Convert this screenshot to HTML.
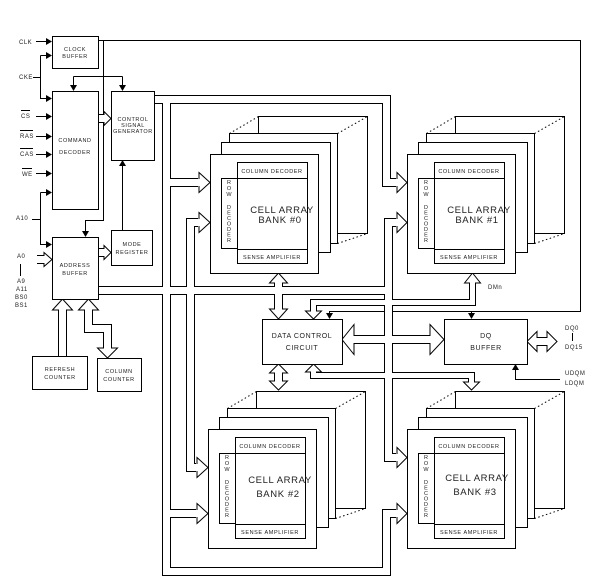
<!DOCTYPE html>
<html><head><meta charset="utf-8"><style>
html,body{margin:0;padding:0;background:#fff;}
svg{display:block;}
text{font-family:"Liberation Sans",sans-serif;fill:#222;}
.s{font-size:5.5px;letter-spacing:0.6px;text-anchor:middle;}
.m{font-size:6px;letter-spacing:0.5px;}
.c{font-size:9.5px;letter-spacing:0.6px;text-anchor:middle;}
.b{fill:none;stroke:#000;stroke-width:9;stroke-linejoin:miter;}
.w{fill:none;stroke:#fff;stroke-width:7;stroke-linejoin:miter;}
.bn{fill:none;stroke:#000;stroke-width:7;stroke-linejoin:miter;}
.wn{fill:none;stroke:#fff;stroke-width:5;stroke-linejoin:miter;}
.h{fill:#fff;stroke:#000;stroke-width:1;}
.r{fill:#fff;stroke:#000;stroke-width:1;}
.l{fill:none;stroke:#000;stroke-width:1;}
.d{fill:none;stroke:#000;stroke-width:1;stroke-dasharray:1.5,2.5;}
</style></head><body>
<svg width="604" height="587" viewBox="0 0 604 587" xmlns="http://www.w3.org/2000/svg">
<defs>
<g id="bank">
<rect class="r" x="258.5" y="116.5" width="109" height="117"/>
<path class="d" d="M229.5,133.5 L258.5,116.5 M337.5,133.5 L367.5,116.5 M337.5,243.5 L367.5,233.5"/>
<rect class="r" x="229.5" y="133.5" width="108" height="110"/>
<rect class="r" x="221.5" y="142.5" width="109" height="110"/>
<rect class="r" x="210.5" y="154.5" width="108" height="119"/>
<rect class="r" x="237.5" y="162.5" width="70" height="101"/>
<path class="l" d="M237.5,178.5 H307.5 M237.5,249.5 H307.5"/>
<rect class="r" x="221.5" y="178.5" width="16" height="70"/>
<text class="s" x="272" y="173">COLUMN DECODER</text>
<text class="s" x="272" y="259">SENSE AMPLIFIER</text>
<g class="s" style="letter-spacing:0">
<text x="229" y="184">R</text><text x="229" y="190">O</text><text x="229" y="196">W</text>
<text x="229" y="209">D</text><text x="229" y="214.5">E</text><text x="229" y="220">C</text><text x="229" y="225.5">O</text><text x="229" y="231">D</text><text x="229" y="236.5">E</text><text x="229" y="242">R</text>
</g>
</g>
</defs>

<path class="l" d="M98,40.5 H580.5 V311.5 H329.5 V314 M471.5,311.5 V314"/>
<polygon points="326,313 333,313 329.5,319"/>
<polygon points="468,313 475,313 471.5,319"/>
<path class="l" d="M103.5,40.5 V220.5 H85.5 V231"/>
<polygon points="82,231 89,231 85.5,237"/>
<path class="l" d="M73.5,76.5 H122.5 M73.5,76.5 V85 M122.5,76.5 V85"/>
<polygon points="70,85 77,85 73.5,91"/><polygon points="119,85 126,85 122.5,91"/>
<path class="l" d="M122.5,230 V166"/><polygon points="119,166 126,166 122.5,160"/>
<path class="l" d="M36,41.5 H46 M33,77.5 H40.5 M40.5,55.5 V98.5 H46 M40.5,55.5 H46 M36,116.5 H46 M36,136.5 H46 M36,154.5 H46 M36,173.5 H46 M32,219.5 H40.5 M40.5,192.5 V244.5 H46 M40.5,192.5 H46"/>
<g>
<polygon points="46,38 52,41.5 46,45"/><polygon points="46,52 52,55.5 46,59"/><polygon points="46,95 52,98.5 46,102"/>
<polygon points="46,113 52,116.5 46,120"/><polygon points="46,133 52,136.5 46,140"/><polygon points="46,151 52,154.5 46,158"/>
<polygon points="46,170 52,173.5 46,177"/><polygon points="46,189 52,192.5 46,196"/><polygon points="46,241 52,244.5 46,248"/>
</g>
<path class="l" d="M560,379.5 H515.5 V370"/><polygon points="512,370 519,370 515.5,364"/>

<g class="b">
<polyline points="154,99.5 386.5,99.5 386.5,182.5 396,182.5"/>
<polyline points="166.5,99.5 166.5,571.5 386.5,571.5 386.5,513.5 396,513.5"/>
<polyline points="166.5,182.5 198,182.5"/>
<polyline points="166.5,513.5 196,513.5"/>
<polyline points="98,290.5 388.5,290.5"/>
<polyline points="198,222.5 190.5,222.5 190.5,467.5 196,467.5"/>
<polyline points="396,222.5 388.5,222.5 388.5,457.5 396,457.5"/>
<polyline points="278.5,282 278.5,310"/>
<polyline points="278.5,373 278.5,381"/>
<polyline points="354,339.5 430,339.5"/>
<polyline points="37,259.5 44,259.5"/>
<polyline points="98,118.5 104,118.5"/>
<polyline points="98,252.5 104,252.5"/>
<polyline points="62.5,356 62.5,310"/>
<polyline points="88.5,310 88.5,328.5 107.5,328.5 107.5,348"/>
<polyline points="537,341.5 547,341.5"/>
</g>
<g class="bn">
<polyline points="472.5,282 472.5,302.5 313.5,302.5 313.5,311"/>
<polyline points="313.5,372 313.5,375.5 471.5,375.5 471.5,382"/>
</g>
<g class="h">
<polygon points="397,172.5 407,182.5 397,192.5"/>
<polygon points="397,503.5 407,513.5 397,523.5"/>
<polygon points="199,172.5 210,182.5 199,192.5"/>
<polygon points="197,503.5 208,513.5 197,523.5"/>
<polygon points="199,212.5 210,222.5 199,232.5"/>
<polygon points="197,457.5 208,467.5 197,477.5"/>
<polygon points="397,212.5 407,222.5 397,232.5"/>
<polygon points="397,447.5 407,457.5 397,467.5"/>
<polygon points="269.5,283 278.5,273 287.5,283"/>
<polygon points="269.5,309 278.5,319 287.5,309"/>
<polygon points="269.5,373 278.5,364 287.5,373"/>
<polygon points="269.5,381 278.5,390 287.5,381"/>
<polygon points="464.5,283 472.5,273 480.5,283"/>
<polygon points="305.5,311 313.5,319 321.5,311"/>
<polygon points="305.5,372 313.5,364 321.5,372"/>
<polygon points="463.5,382 471.5,390 479.5,382"/>
<polygon points="354,324.5 342,339.5 354,354.5"/>
<polygon points="430,324.5 444,339.5 430,354.5"/>
<polygon points="537,331.5 527,341.5 537,351.5"/>
<polygon points="547,331.5 557,341.5 547,351.5"/>
<polygon points="44,252.5 52,259.5 44,266.5"/>
<polygon points="104,111.5 111,118.5 104,125.5"/>
<polygon points="104,245.5 111,252.5 104,259.5"/>
<polygon points="52.5,310 62.5,299 72.5,310"/>
<polygon points="78.5,310 88.5,299 98.5,310"/>
<polygon points="97.5,348 107.5,358 117.5,348"/>
</g>
<!-- white interiors drawn after heads to remove base lines -->
<g class="w">
<polyline points="154,99.5 386.5,99.5 386.5,182.5 398,182.5"/>
<polyline points="166.5,99.5 166.5,571.5 386.5,571.5 386.5,513.5 398,513.5"/>
<polyline points="166.5,182.5 200,182.5"/>
<polyline points="166.5,513.5 198,513.5"/>
<polyline points="99,290.5 388.5,290.5"/>
<polyline points="200,222.5 190.5,222.5 190.5,467.5 198,467.5"/>
<polyline points="398,222.5 388.5,222.5 388.5,457.5 398,457.5"/>
<polyline points="278.5,281.5 278.5,310.5"/>
<polyline points="278.5,372.5 278.5,381.5"/>
<polyline points="353.5,339.5 430.5,339.5"/>
<polyline points="36,259.5 45,259.5"/>
<polyline points="97,118.5 105,118.5"/>
<polyline points="97,252.5 105,252.5"/>
<polyline points="62.5,357 62.5,309"/>
<polyline points="88.5,309 88.5,328.5 107.5,328.5 107.5,349"/>
<polyline points="536.5,341.5 547.5,341.5"/>
</g>
<g class="wn">
<polyline points="472.5,281.5 472.5,302.5 313.5,302.5 313.5,312"/>
<polyline points="313.5,371 313.5,375.5 471.5,375.5 471.5,383"/>
</g>

<rect class="r" x="52.5" y="36.5" width="46" height="32"/>
<rect class="r" x="52.5" y="91.5" width="46" height="118"/>
<rect class="r" x="111.5" y="91.5" width="43" height="69"/>
<rect class="r" x="52.5" y="237.5" width="46" height="62"/>
<rect class="r" x="111.5" y="230.5" width="41" height="35"/>
<rect class="r" x="32.5" y="356.5" width="55" height="33"/>
<rect class="r" x="97.5" y="358.5" width="44" height="33"/>
<rect class="r" x="262.5" y="319.5" width="80" height="45"/>
<rect class="r" x="444.5" y="319.5" width="83" height="45"/>

<use href="#bank"/>
<use href="#bank" transform="translate(197,0)"/>
<use href="#bank" transform="translate(-2,275)"/>
<use href="#bank" transform="translate(197,275)"/>
<text class="c" x="282" y="213">CELL ARRAY</text><text class="c" x="280" y="223">BANK #0</text>
<text class="c" x="479" y="213">CELL ARRAY</text><text class="c" x="477" y="223">BANK #1</text>
<text class="c" x="280" y="483">CELL ARRAY</text><text class="c" x="278" y="497">BANK #2</text>
<text class="c" x="477" y="481">CELL ARRAY</text><text class="c" x="475" y="495">BANK #3</text>

<g class="s">
<text x="75" y="51">CLOCK</text><text x="75" y="58">BUFFER</text>
<text x="75" y="142">COMMAND</text><text x="75" y="154">DECODER</text>
<text x="133" y="121">CONTROL</text><text x="133" y="127">SIGNAL</text><text x="133" y="133">GENERATOR</text>
<text x="75" y="267">ADDRESS</text><text x="75" y="275">BUFFER</text>
<text x="132" y="246">MODE</text><text x="132" y="254">REGISTER</text>
<text x="60" y="371">REFRESH</text><text x="60" y="379">COUNTER</text>
<text x="119" y="373">COLUMN</text><text x="119" y="381">COUNTER</text>
</g>
<text class="s" style="font-size:7px" x="302" y="338">DATA CONTROL</text>
<text class="s" style="font-size:7px" x="302" y="350">CIRCUIT</text>
<text class="s" style="font-size:7px" x="486" y="338">DQ</text>
<text class="s" style="font-size:7px" x="486" y="350">BUFFER</text>
<g class="m">
<text x="19" y="44">CLK</text><text x="19" y="79">CKE</text>
<text x="21" y="118">CS</text>
<text x="20" y="138">RAS</text>
<text x="20" y="156">CAS</text>
<text x="22" y="176">WE</text>
<text x="16" y="220">A10</text>
<text x="17" y="258">A0</text>
<text x="17" y="283">A9</text><text x="16" y="291">A11</text><text x="15" y="299">BS0</text><text x="15" y="307">BS1</text>
<text x="488" y="289">DMn</text>
<text x="565" y="330">DQ0</text><text x="565" y="349">DQ15</text>
<text x="565" y="375">UDQM</text><text x="565" y="385">LDQM</text>
</g>
<path class="l" d="M21,110.5 H30 M20,130.5 H33 M20,148.5 H33 M22,168.5 H32 M20.5,264 V276 M572.5,333 V341"/>
</svg>
</body></html>
